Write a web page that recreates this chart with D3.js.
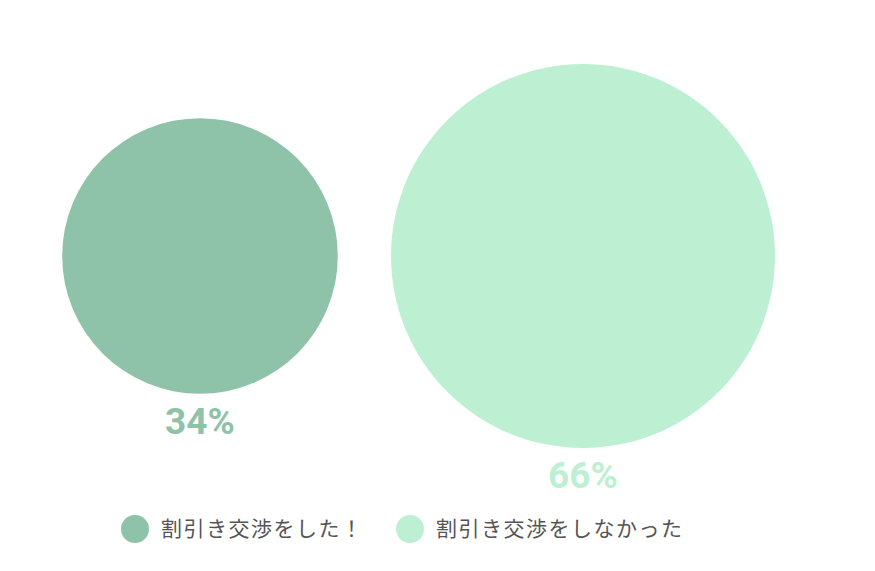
<!DOCTYPE html>
<html>
<head>
<meta charset="utf-8">
<script src="https://cdn.jsdelivr.net/npm/d3@7"></script>
<style>
  body { margin: 0; background: #fff; }
</style>
</head>
<body>
<script>
// data
var labels = ["割引き交渉をした！", "割引き交渉をしなかった"];
var values = [34, 66];
var colors = ["#8fc3a9", "#bdf0d3"];

var width = 875, height = 571;

var svg = d3.select("body").append("svg")
    .attr("width", width)
    .attr("height", height);

// bubble size: area proportional to the percentage
var r = d3.scaleSqrt().domain([0, 66]).range([0, 192]);
var x = d3.scalePoint().domain(labels).range([200, 583]);
var cy = 256;

var bubbles = svg.selectAll("g.bubble")
    .data(values)
    .enter().append("g")
    .attr("class", "bubble");

bubbles.append("circle")
    .attr("cx", function(d, i) { return x(labels[i]); })
    .attr("cy", cy)
    .attr("r", function(d) { return r(d); })
    .style("fill", function(d, i) { return colors[i]; });

// percent label under each bubble
bubbles.append("text")
    .attr("x", function(d, i) { return x(labels[i]); })
    .attr("y", function(d) { return cy + r(d) + 40; })
    .attr("text-anchor", "middle")
    .attr("font-family", "Roboto, sans-serif")
    .attr("font-weight", "bold")
    .attr("font-size", "37px")
    .attr("fill", function(d, i) { return colors[i]; })
    .text(function(d) { return d + "%"; });

// legend
var legendX = [135, 410];
var legend = svg.selectAll("g.legend")
    .data(labels)
    .enter().append("g")
    .attr("class", "legend")
    .attr("transform", function(d, i) { return "translate(" + legendX[i] + ",529)"; });

legend.append("circle")
    .attr("r", 14)
    .style("fill", function(d, i) { return colors[i]; });

legend.append("text")
    .attr("x", 26)
    .attr("y", 0)
    .attr("dy", "0.35em")
    .attr("font-family", "'Noto Sans CJK JP', sans-serif")
    .attr("font-size", "21px")
    .attr("letter-spacing", "1.5px")
    .attr("fill", "#555")
    .text(function(d) { return d; });
</script>
</body>
</html>
